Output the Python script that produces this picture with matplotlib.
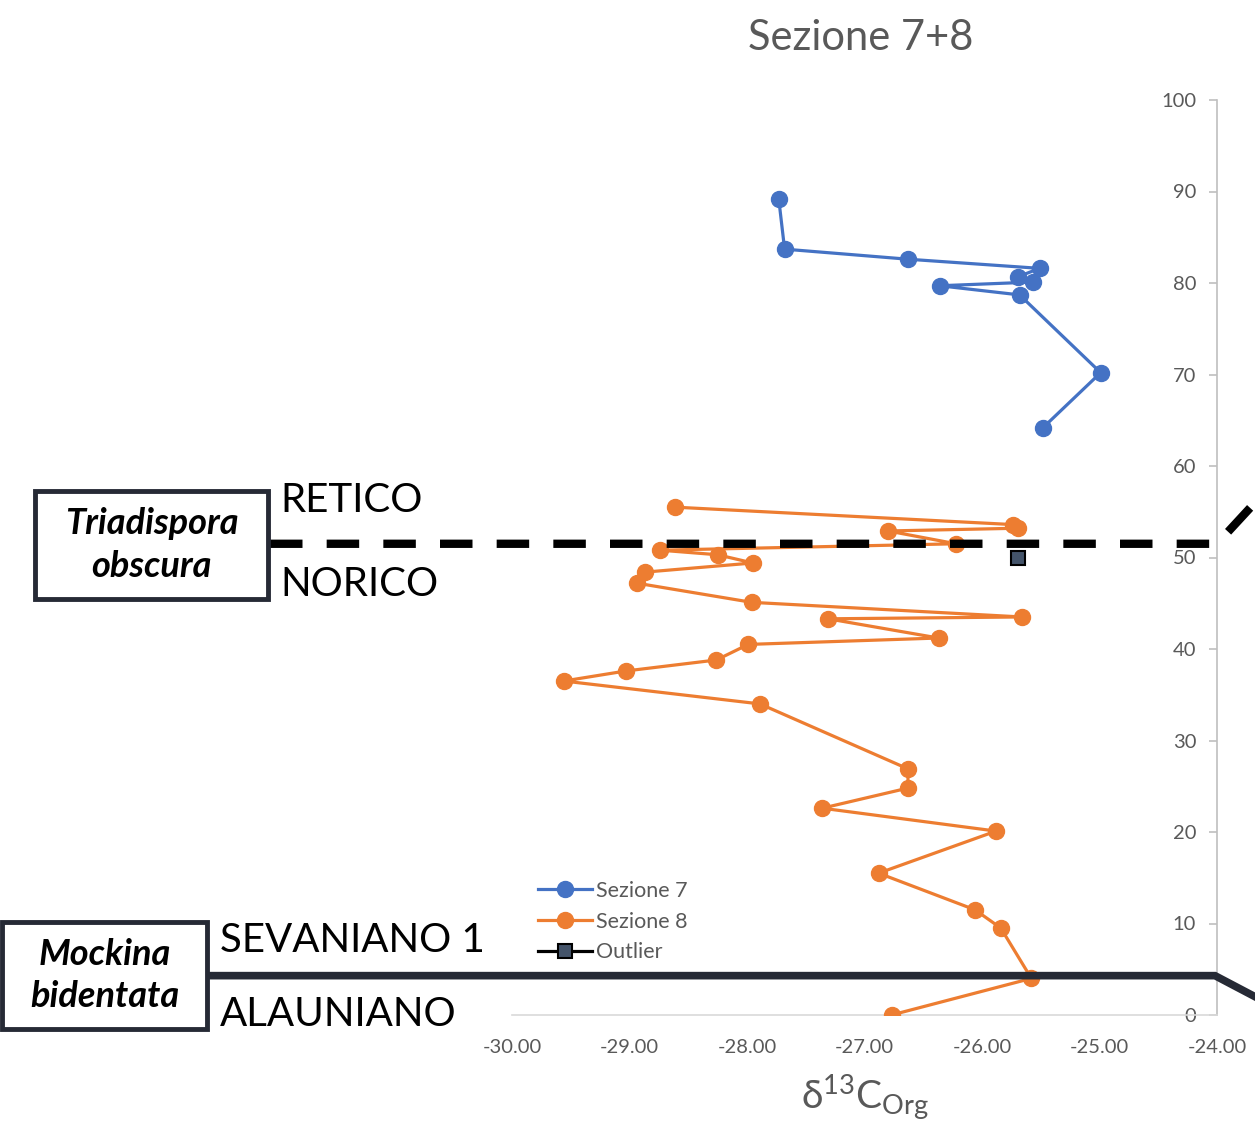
import matplotlib
matplotlib.use("Agg")
import matplotlib.pyplot as plt
import matplotlib.transforms as mtransforms
from matplotlib.patches import Rectangle

plt.rcParams.update({
    "font.family": ["Lato", "DejaVu Sans"],
    "mathtext.fontset": "custom",
    "mathtext.rm": "Lato",
    "mathtext.it": "Lato:italic",
    "mathtext.bf": "Lato:bold",
})

# Sezione 7 (d13C org, profondita m)
sez7_x = [-27.73, -27.68, -26.63, -25.51, -25.69, -25.57, -26.36, -25.68, -24.99, -25.48]
sez7_y = [89.2, 83.7, 82.6, 81.6, 80.7, 80.1, 79.7, 78.7, 70.2, 64.2]

# Sezione 8
sez8_x = [-28.61, -25.74, -25.69, -26.80, -26.22, -28.74, -28.25, -27.95, -28.87, -28.94,
          -27.96, -25.66, -27.31, -26.37, -27.99, -28.26, -29.03, -29.56, -27.89, -26.63,
          -26.63, -27.36, -25.88, -26.88, -26.06, -25.84, -25.58, -26.77]
sez8_y = [55.5, 53.6, 53.2, 52.9, 51.5, 50.8, 50.3, 49.4, 48.4, 47.2,
          45.1, 43.5, 43.3, 41.2, 40.5, 38.8, 37.6, 36.5, 34.0, 26.9,
          24.8, 22.6, 20.1, 15.5, 11.5, 9.5, 4.0, 0.0]

outlier_x = [-25.69]
outlier_y = [50.0]

# limiti biostratigrafici
limite_retico = 51.5
limite_sevaniano = 4.3

BLUE = "#4472C4"
ORANGE = "#ED7D31"
GRAY = "#595959"
DARK = "#262A35"

fig = plt.figure(figsize=(12.55, 11.32), dpi=100)
ax = fig.add_axes([512 / 1255, 117 / 1132, 705 / 1255, 915 / 1132])

ax.plot(sez7_x, sez7_y, color=BLUE, lw=2.3, marker="o", ms=11.5, label="Sezione 7", zorder=3)
ax.plot(sez8_x, sez8_y, color=ORANGE, lw=2.3, marker="o", ms=11.5, label="Sezione 8", zorder=3)
ax.plot(outlier_x, outlier_y, color="black", lw=2.3, marker="s", ms=9.5,
        mfc="#44546A", mec="black", mew=1.5, label="Outlier", zorder=4)

ax.set_xlim(-30, -24)
ax.set_ylim(0, 100)
ax.set_xticks([-30, -29, -28, -27, -26, -25, -24])
ax.set_xticklabels([f"{v:.2f}" for v in ax.get_xticks()])
ax.set_yticks(range(0, 101, 10))

for s in ["top", "right"]:
    ax.spines[s].set_visible(False)
ax.spines["left"].set_position(("data", -24))
ax.spines["left"].set_color("#BFBFBF")
ax.spines["bottom"].set_color("#D9D9D9")
ax.spines["left"].set_linewidth(1.2)
ax.spines["bottom"].set_linewidth(1.2)
ax.tick_params(axis="y", colors="#BFBFBF", labelcolor=GRAY, labelsize=14.5,
               length=6, width=1.2, pad=9)
ax.tick_params(axis="x", labelcolor=GRAY, labelsize=14.5, length=0, pad=17)
ax.patch.set_alpha(0)

leg = ax.legend(loc="upper left", bbox_to_anchor=(0.025, 0.156), frameon=False,
                fontsize=15.5, handlelength=2.5, handletextpad=0.2,
                labelspacing=0.5, borderaxespad=0)
for t in leg.get_texts():
    t.set_color(GRAY)

# titolo e asse x
fig.text(861 / 1255, 1 - 38 / 1132, "Sezione 7+8", ha="center", va="center",
         fontsize=30, color=GRAY)
fig.text(865 / 1255, 1 - 1097 / 1132, r"δ$^{13}$C$_{\mathrm{Org}}$", ha="center",
         va="center", fontsize=28, color=GRAY)

# linee di limite (x in frazione di figura, y in dati)
trans = mtransforms.blended_transform_factory(fig.transFigure, ax.transData)
ax.plot([270 / 1255, 1217 / 1255, 1.0], [limite_retico, limite_retico, limite_retico + 4.5],
        transform=trans, color="black", lw=6, ls=(0, (3.9, 2.9)), clip_on=False, zorder=5)
ax.plot([210 / 1255, 1215 / 1255, 1.0], [limite_sevaniano, limite_sevaniano, limite_sevaniano - 2.3],
        transform=trans, color=DARK, lw=5.5, clip_on=False, zorder=5,
        solid_joinstyle="miter")

# riquadri biozone
def box(x0, y0, x1, y1, lines):
    fig.add_artist(Rectangle((x0 / 1255, 1 - y1 / 1132), (x1 - x0) / 1255, (y1 - y0) / 1132,
                             transform=fig.transFigure, fill=False, ec=DARK, lw=3.5))
    cx = (x0 + x1) / 2 / 1255
    cy = 1 - (y0 + y1) / 2 / 1132
    fig.text(cx, cy, "\n".join(lines), ha="center", va="center", fontsize=26,
             fontweight="bold", fontstyle="italic", linespacing=1.35)

box(35, 491, 268, 599, ["Triadispora", "obscura"])
box(2, 922, 207, 1029, ["Mockina", "bidentata"])

for txt, x, y in [("RETICO", 280, 501), ("NORICO", 280, 584),
                  ("SEVANIANO 1", 220, 941), ("ALAUNIANO", 220, 1015)]:
    fig.text(x / 1255, 1 - y / 1132, txt, ha="left", va="center", fontsize=29, color="black")

fig.savefig("out.png", dpi=100)
